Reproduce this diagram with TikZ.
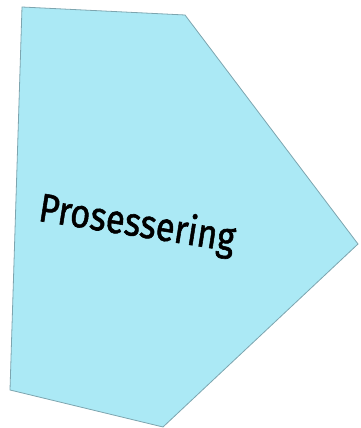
\documentclass[tikz,border=0pt]{standalone}
\usepackage{fontspec}
\setmainfont{Fira Sans}[FakeBold=1.5]
\definecolor{shapefill}{RGB}{171,233,245}
\definecolor{shapeline}{RGB}{125,165,175}
\begin{document}
\begin{tikzpicture}[x=1pt,y=1pt,
  shapestyle/.style={fill=shapefill,draw=shapeline,line width=0.8pt,line join=miter},
  labelstyle/.style={font=\fontsize{40}{44}\selectfont,text=black,rotate=-9,inner sep=0pt,xscale=0.86}]
\useasboundingbox (0,0) rectangle (360,428);
\coordinate (a) at (22,421);
\coordinate (b) at (185,413);
\coordinate (c) at (358,184);
\coordinate (d) at (163,1);
\coordinate (e) at (10,38);
\draw[shapestyle] (a) -- (b) -- (c) -- (d) -- (e) -- cycle;
\node[labelstyle] (lbl) at (137,203) {Prosessering};
\end{tikzpicture}
\end{document}
